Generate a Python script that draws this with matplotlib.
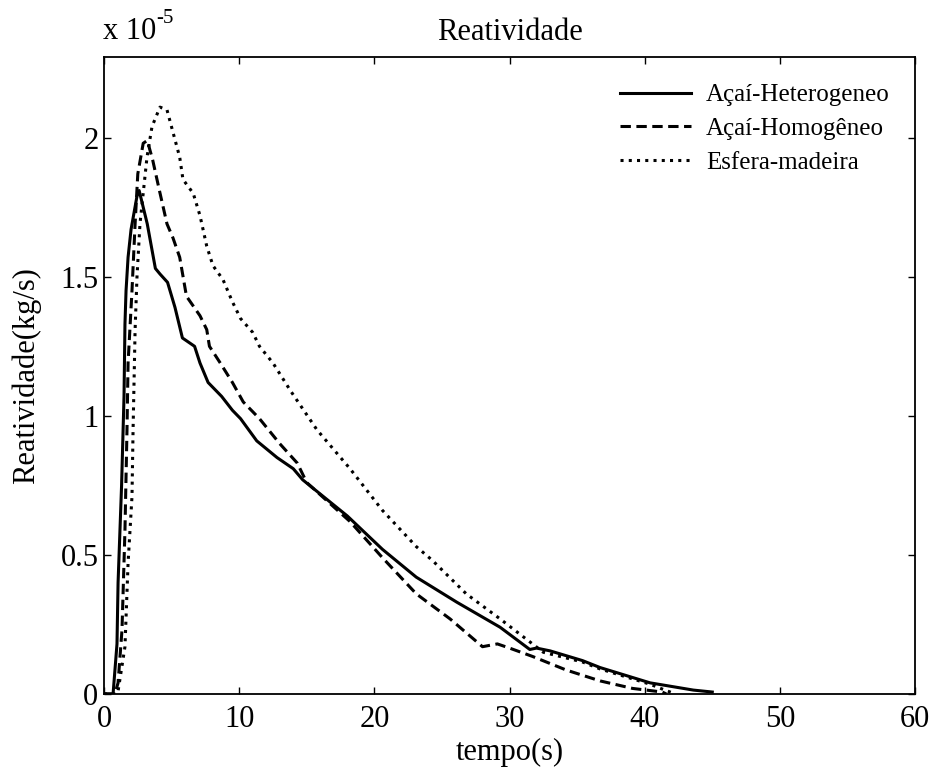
import numpy as np
import matplotlib.pyplot as plt
from matplotlib.ticker import FuncFormatter

plt.rcParams['font.family'] = ['Liberation Serif', 'DejaVu Serif']

# reatividade in units of 1e-5 kg/s
t_het = [0.0, 0.67, 0.96, 1.04, 1.3, 1.48, 1.55, 1.63, 1.78, 2.0, 2.44, 2.6, 3.2, 3.8, 4.14,
         4.7, 5.25, 5.8, 6.1, 6.7, 7.1, 7.7, 8.7, 9.5, 10.1, 11.3, 12.8, 14.0, 14.7, 18.0,
         20.6, 23.1, 26.1, 29.3, 31.5, 32.0, 33.0, 35.4, 36.7, 40.4, 43.6, 45.0]
r_het = [0.0, 0.0, 0.18, 0.40, 0.75, 1.07, 1.33, 1.45, 1.57, 1.67, 1.79, 1.81, 1.69, 1.53, 1.51,
         1.48, 1.39, 1.28, 1.27, 1.25, 1.19, 1.12, 1.07, 1.02, 0.99, 0.91, 0.85, 0.81, 0.77, 0.64,
         0.52, 0.42, 0.33, 0.24, 0.16, 0.165, 0.155, 0.12, 0.095, 0.04, 0.014, 0.007]

t_hom = [0.0, 0.8, 1.04, 1.33, 1.55, 1.7, 1.78, 2.07, 2.3, 2.5, 2.9, 3.2, 3.6, 4.1, 4.66,
         5.1, 5.6, 6.1, 7.1, 7.6, 7.8, 8.6, 9.5, 10.3, 11.5, 13.0, 14.3, 15.0, 18.2, 20.6,
         23.1, 25.6, 28.0, 29.1, 30.0, 31.7, 34.2, 36.7, 39.1, 41.3, 41.6]
r_hom = [0.0, 0.0, 0.04, 0.23, 0.59, 0.95, 1.19, 1.45, 1.69, 1.87, 1.98, 1.99, 1.92, 1.81, 1.69,
         1.64, 1.57, 1.43, 1.36, 1.31, 1.25, 1.19, 1.12, 1.05, 0.99, 0.90, 0.83, 0.76, 0.62, 0.49,
         0.36, 0.27, 0.17, 0.18, 0.165, 0.135, 0.086, 0.047, 0.02, 0.007, 0.0]

t_esf = [0.0, 0.9, 1.04, 1.55, 1.78, 2.07, 2.15, 2.3, 2.44, 2.66, 3.18, 3.55, 4.14, 4.66, 5.1,
         5.6, 5.84, 6.6, 7.1, 7.6, 8.06, 8.8, 9.5, 10.1, 11.0, 11.5, 12.5, 13.8, 15.75, 18.2,
         20.6, 23.1, 24.3, 26.8, 29.3, 31.7, 32.5, 35.4, 36.7, 40.4, 41.6, 42.0]
r_esf = [0.0, 0.0, 0.01, 0.17, 0.47, 0.71, 0.95, 1.31, 1.50, 1.69, 1.93, 2.04, 2.11, 2.10, 2.02,
         1.93, 1.85, 1.80, 1.72, 1.61, 1.54, 1.49, 1.41, 1.35, 1.30, 1.25, 1.19, 1.09, 0.95, 0.81,
         0.66, 0.53, 0.48, 0.36, 0.27, 0.18, 0.15, 0.115, 0.09, 0.035, 0.012, 0.005]

labels = ['Açaí-Heterogeneo', 'Açaí-Homogêneo', 'Esfera-madeira']

fig = plt.figure(figsize=(9.32, 7.71), dpi=100)
ax = fig.add_axes([0.1116, 0.0999, 0.8702, 0.8261])

ax.plot(t_het, r_het, color='black', lw=2.2, ls='-', label=labels[0])
ax.plot(t_hom, r_hom, color='black', lw=2.2, ls=(0, (3.4, 1.8)), label=labels[1])
ax.plot(t_esf, r_esf, color='black', lw=2.2, ls=(0, (1.0, 1.7)), label=labels[2])

ax.set_xlim(0, 60)
ax.set_ylim(0, 2.29)
ax.set_xticks([0, 10, 20, 30, 40, 50, 60])
ax.set_yticks([0, 0.5, 1, 1.5, 2])
ax.yaxis.set_major_formatter(FuncFormatter(lambda v, p: '%g' % v))
ax.tick_params(direction='in', top=True, right=True, length=5, width=1, labelsize=22)
ax.tick_params(axis='x', pad=8)
ax.tick_params(axis='y', pad=4)
for s in ax.spines.values():
    s.set_linewidth(1.3)

ax.set_title('Reatividade', fontsize=22, pad=12)
ax.set_xlabel('tempo(s)', fontsize=22, labelpad=3)
ax.set_ylabel('Reatividade(kg/s)', fontsize=22, labelpad=14)

# MATLAB-style exponent label
base = fig.text(0.11, 0.94, 'x 10', fontsize=22, ha='left', va='bottom')
ax.annotate('-5', xy=(1.0, 0.62), xycoords=base, ha='left', va='bottom', fontsize=15)

ax.legend(loc='upper left', bbox_to_anchor=(0.636, 0.958), frameon=False, fontsize=18,
          handlelength=2.84, handletextpad=0.6, labelspacing=0.45,
          borderpad=0, borderaxespad=0)

fig.savefig('out.png', dpi=100)
